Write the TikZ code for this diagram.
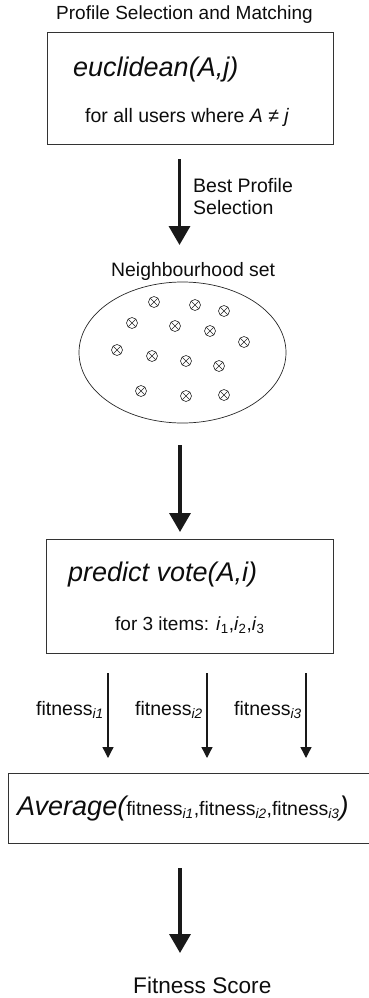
\documentclass[tikz,border=0pt]{standalone}
\usepackage{fontspec}
\setmainfont{Liberation Sans}
\usetikzlibrary{arrows.meta,shapes.geometric}
\newcommand\setfs[1]{\fontsize{#1}{#1}\selectfont}
\begin{document}
\begin{tikzpicture}[x=1pt,y=-1pt,
  boxnode/.style={draw=black!80,line width=0.9pt,inner sep=0pt},
  lbl/.style={anchor=base west,inner sep=0pt,text=black!95},
  bigarrow/.style={draw=black!90,line width=3.5pt,-{Triangle[width=21pt,length=19pt]}},
  thinarrow/.style={draw=black!90,line width=1.3pt,-{Triangle[width=11pt,length=11pt]}},
  ocross/.style={circle,draw=black!85,line width=0.6pt,minimum size=11pt,inner sep=0pt,
    path picture={\draw[line width=0.6pt,black!85]
      (path picture bounding box.north west) -- (path picture bounding box.south east)
      (path picture bounding box.north east) -- (path picture bounding box.south west);}}]
\useasboundingbox (0,0) rectangle (369,998);
\clip (0,0) rectangle (369,998);

% title
\node[lbl] (title) at (56,19.5) {\setfs{19}Profile Selection and Matching};

% box 1
\node[boxnode,minimum width=286pt,minimum height=112pt] (box1) at (190,88) {};
\node[lbl] (eucl) at (73,76) {\setfs{27}\itshape euclidean(A,j)};
\node[lbl] (allusers) at (85,122.5) {\setfs{19.5}for all users where \textit{A} ≠ \textit{j}};

% arrow 1
\coordinate (a1s) at (179.5,159);
\coordinate (a1e) at (179.5,245);
\draw[bigarrow] (a1s) -- (a1e);
\node[lbl] (best1) at (193,192) {\setfs{19.5}Best Profile};
\node[lbl] (best2) at (193,214.5) {\setfs{19.5}Selection};

% neighbourhood
\node[lbl] (nlabel) at (111,276) {\setfs{19.4}Neighbourhood set};
\node[ellipse,draw=black!85,line width=0.7pt,minimum width=207pt,minimum height=141pt,inner sep=0pt] (nset) at (182.5,352.5) {};
\foreach \p [count=\k] in {(154,302),(195,305),(224,311),(132,323),(175,326),(210,331),(244,342),
  (117,350),(152,356),(186,361),(219,366),(141,391),(186,396),(224,395)}
  \node[ocross] (c\k) at \p {};

% arrow 2
\coordinate (a2s) at (180,445);
\coordinate (a2e) at (180,532);
\draw[bigarrow] (a2s) -- (a2e);

% box 2
\node[boxnode,minimum width=287pt,minimum height=114pt] (box2) at (189.5,596) {};
\node[lbl] (predict) at (68,581.5) {\setfs{27}\itshape predict vote(A,i)};
\node[lbl] (items) at (115,630) {\setfs{19}for 3 items: \textit{i}\textsubscript{1},\textit{i}\textsubscript{2},\textit{i}\textsubscript{3}};

% fitness arrows
\foreach \x/\k in {108/1,207/2,306/3}{
  \coordinate (f\k s) at (\x,673);
  \coordinate (f\k e) at (\x,758);
  \draw[thinarrow] (f\k s) -- (f\k e);
}
\node[lbl] (fit1) at (36,715) {\setfs{19.5}fitness\textsubscript{\itshape i1}};
\node[lbl] (fit2) at (135,715) {\setfs{19.5}fitness\textsubscript{\itshape i2}};
\node[lbl] (fit3) at (234,715) {\setfs{19.5}fitness\textsubscript{\itshape i3}};

% box 3
\node[boxnode,minimum width=366pt,minimum height=70pt] (box3) at (191,808) {};
\node[lbl] (avg) at (17,815.5) {\setfs{27}\itshape Average(\upshape\setfs{19.5}fitness\textsubscript{\itshape i1},fitness\textsubscript{\itshape i2},fitness\textsubscript{\itshape i3}\setfs{27}\itshape )};

% arrow 4
\coordinate (a4s) at (180,868);
\coordinate (a4e) at (180,953);
\draw[bigarrow] (a4s) -- (a4e);

\node[lbl] (score) at (133,993) {\setfs{22.6}Fitness Score};
\end{tikzpicture}
\end{document}
